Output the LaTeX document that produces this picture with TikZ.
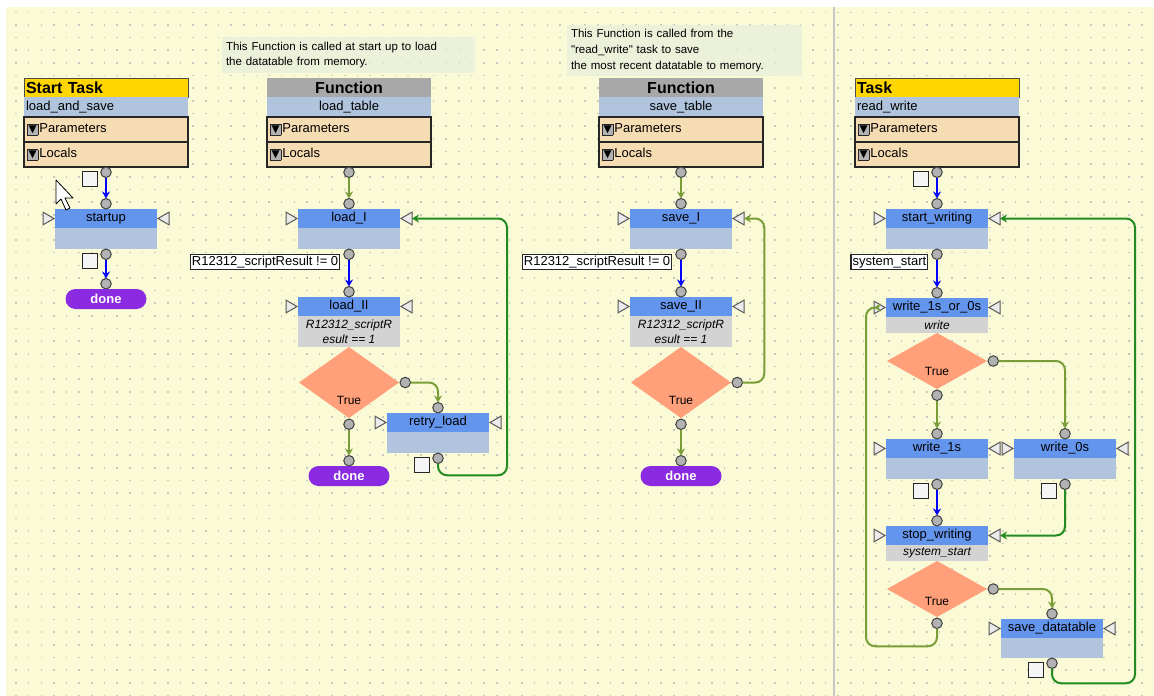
\documentclass[tikz,border=0pt]{standalone}
\usepackage{fontspec}
\setmainfont{Liberation Sans}
\newfontfamily\notefont{Liberation Sans}
\newfontfamily\symfont{DejaVu Sans}
\usetikzlibrary{positioning,shapes.geometric,arrows.meta}

\definecolor{canvas}{RGB}{250,250,214}
\definecolor{griddot}{RGB}{200,200,188}
\definecolor{notebg}{RGB}{232,238,220}
\definecolor{taskgold}{RGB}{255,214,0}
\definecolor{funcgray}{RGB}{168,168,168}
\definecolor{barsteel}{RGB}{176,196,222}
\definecolor{varbeige}{RGB}{246,220,178}
\definecolor{stepblue}{RGB}{100,149,237}
\definecolor{condgray}{RGB}{211,211,211}
\definecolor{decsalmon}{RGB}{255,160,122}
\definecolor{donepurple}{RGB}{138,43,226}
\definecolor{linkblue}{RGB}{0,0,255}
\definecolor{linkolive}{RGB}{122,158,55}
\definecolor{linkgreen}{RGB}{34,139,34}

% drop-down button in front of Parameters / Locals
\newcommand{\dropicon}{{\setlength{\fboxsep}{0.8pt}\setlength{\fboxrule}{0.9pt}\fcolorbox{black!85}{black!30}{\fontsize{10.5}{11}\symfont\char"25BC}}\hspace{1pt}}

\begin{document}
\begin{tikzpicture}[x=1pt,y=-1pt,
    every node/.style={inner sep=0pt,outer sep=0pt},
    txt/.style={font=\fontsize{13}{15}\selectfont},
    griddots/.style={draw=griddot,line width=1.6pt,dash pattern=on 1.6pt off 11.05pt},
    notebox/.style={fill=notebg,fill opacity=0.75,text opacity=1,align=left,inner xsep=4pt,font=\notefont\fontsize{11.5}{15.5}\selectfont},
    taskhdr/.style={fill=taskgold,draw=black!70,text width=160pt,inner xsep=2pt,minimum height=19pt,align=left,font=\fontsize{16}{18}\selectfont\bfseries},
    funchdr/.style={fill=funcgray,minimum width=164pt,minimum height=19pt,font=\fontsize{16}{18}\selectfont\bfseries},
    namebox/.style={fill=barsteel,minimum width=164pt,minimum height=20pt,txt},
    namebox left/.style={namebox,text width=160pt,inner xsep=2pt,align=left},
    varrow/.style={fill=varbeige,draw=black!85,line width=1.3pt,text width=158pt,inner xsep=3pt,minimum height=25pt,align=left,txt},
    stephdr/.style={fill=stepblue,minimum width=102pt,minimum height=19pt,txt},
    stepbody/.style={fill=barsteel,minimum width=102pt,minimum height=21pt},
    condbody/.style={fill=condgray,minimum width=102pt,align=center,font=\fontsize{12}{15}\selectfont\itshape},
    pinR/.style={isosceles triangle,isosceles triangle apex angle=60,minimum height=11pt,fill=black!8,draw=black!65,line width=1pt},
    pinL/.style={pinR,shape border rotate=180},
    portdot/.style={circle,minimum size=10.5pt,fill=black!30,draw=black!75,line width=1pt},
    chk/.style={rectangle,minimum width=15pt,minimum height=15pt,fill=black!4,draw=black!85,line width=1.3pt},
    decision/.style={diamond,fill=decsalmon,minimum width=100pt},
    truetxt/.style={font=\fontsize{12}{14}\selectfont},
    donepill/.style={fill=donepurple,rounded corners=10pt,minimum width=81pt,minimum height=20pt,text=white,font=\fontsize{13}{15}\selectfont\bfseries},
    resultlbl/.style={fill=white,draw=black!85,line width=1.2pt,minimum height=15pt,inner xsep=1.5pt,txt},
    connector/.style={line width=2pt,rounded corners=9pt,-{Stealth[length=7pt,width=8pt]}},
    bluelink/.style={connector,draw=linkblue},
    olivelink/.style={connector,draw=linkolive},
    greenlink/.style={connector,draw=linkgreen}]

  \useasboundingbox (0,0) rectangle (1154,696);

  % Canvas with its dotted grid and the divider
  \fill[white] (0,0) rectangle (1154,696);
  \fill[canvas] (6,7) rectangle (1154,696);
  \foreach \gy in {12.3,24.95,...,696}
    \draw[griddots] (15.2,\gy) -- (1154,\gy);
  \draw[black!22,line width=1.5pt] (834,7) -- (834,696);

  % ---------------- Start Task: load_and_save
  \node[taskhdr] (taskA) at (106,87.5) {Start Task};
  \node[namebox left,below=0pt of taskA] (nameA) {load\_and\_save};
  \node[varrow,below=0pt of nameA] (parA) {\dropicon Parameters};
  \node[varrow,below=0pt of parA] (locA) {\dropicon Locals};
  \node[portdot,below=0pt of locA] (pA0) {};
  \node[chk,left=3pt of pA0,yshift=-7pt] (cA0) {};

  \node[stephdr] (startup) at (106,218.5) {startup};
  \node[stepbody,below=0pt of startup] (startupB) {};
  \node[pinR,left=1pt of startup] (pinAl) {};
  \node[pinL,right=1pt of startup] (pinAr) {};
  \node[portdot,above=0pt of startup] (pA1) {};
  \node[portdot,below=0pt of startupB] (pA2) {};
  \node[chk,left=3pt of pA2,yshift=-7pt] (cA2) {};
  \node[portdot,below=19pt of pA2] (pA3) {};
  \node[donepill,below=0pt of pA3] (doneA) {done};

  \draw[bluelink] (pA0) -- (pA1);
  \draw[bluelink] (pA2) -- (pA3);

  % ---------------- Function: load_table
  \node[notebox,text width=245pt,minimum height=36pt] (noteB) at (348.5,55)
    {This Function is called at start up to load\\the datatable from memory.};
  \node[funchdr] (funcB) at (349,87.5) {Function};
  \node[namebox,below=0pt of funcB] (nameB) {load\_table};
  \node[varrow,below=0pt of nameB] (parB) {\dropicon Parameters};
  \node[varrow,below=0pt of parB] (locB) {\dropicon Locals};
  \node[portdot,below=0pt of locB] (pB0) {};

  \node[stephdr] (loadI) at (349,218.5) {load\_I};
  \node[stepbody,below=0pt of loadI] (loadIB) {};
  \node[pinR,left=1pt of loadI] (pinBl1) {};
  \node[pinL,right=1pt of loadI] (pinBr1) {};
  \node[portdot,above=0pt of loadI] (pB1) {};
  \node[portdot,below=0pt of loadIB] (pB2) {};
  \node[resultlbl,left=4pt of pB2,yshift=-8pt] (resB) {R12312\_scriptResult != 0};

  \node[stephdr] (loadII) at (349,306.5) {load\_II};
  \node[condbody,minimum height=31pt,below=0pt of loadII] (loadIIB) {R12312\_scriptR\\esult == 1};
  \node[pinR,left=1pt of loadII] (pinBl2) {};
  \node[pinL,right=1pt of loadII] (pinBr2) {};
  \node[portdot,above=0pt of loadII] (pB3) {};
  \node[decision,minimum height=71pt,below=0pt of loadIIB] (decB) {};
  \node[truetxt] (trueB) at ([yshift=-18pt]decB.center) {True};
  \node[portdot,right=1pt of decB] (pB4) {};
  \node[portdot,below=1pt of decB] (pB5) {};
  \node[portdot,below=26pt of pB5] (pB6) {};
  \node[donepill,below=0pt of pB6] (doneB) {done};

  \node[stephdr] (retry) at (438,422.5) {retry\_load};
  \node[stepbody,below=0pt of retry] (retryB) {};
  \node[pinR,left=1pt of retry] (pinBl3) {};
  \node[pinL,right=1pt of retry] (pinBr3) {};
  \node[portdot,above=0pt of retry] (pB7) {};
  \node[portdot,below=0pt of retryB] (pB8) {};
  \node[chk,left=3pt of pB8,yshift=-7pt] (cB8) {};

  \draw[olivelink] (pB0) -- (pB1);
  \draw[bluelink] (pB2) -- (pB3);
  \draw[olivelink] (pB4) -| (pB7);
  \draw[olivelink] (pB5) -- (pB6);
  \draw[greenlink] (pB8) |- ++(69,17) |- (pinBr1);

  % ---------------- Function: save_table
  \node[notebox,text width=227pt,minimum height=51pt,font=\notefont\fontsize{11.5}{16}\selectfont] (noteC) at (684.5,50.5)
    {This Function is called from the\\"read\_write" task to save\\the most recent datatable to memory.};
  \node[funchdr] (funcC) at (681,87.5) {Function};
  \node[namebox,below=0pt of funcC] (nameC) {save\_table};
  \node[varrow,below=0pt of nameC] (parC) {\dropicon Parameters};
  \node[varrow,below=0pt of parC] (locC) {\dropicon Locals};
  \node[portdot,below=0pt of locC] (pC0) {};

  \node[stephdr] (saveI) at (681,218.5) {save\_I};
  \node[stepbody,below=0pt of saveI] (saveIB) {};
  \node[pinR,left=1pt of saveI] (pinCl1) {};
  \node[pinL,right=1pt of saveI] (pinCr1) {};
  \node[portdot,above=0pt of saveI] (pC1) {};
  \node[portdot,below=0pt of saveIB] (pC2) {};
  \node[resultlbl,left=4pt of pC2,yshift=-8pt] (resC) {R12312\_scriptResult != 0};

  \node[stephdr] (saveII) at (681,306.5) {save\_II};
  \node[condbody,minimum height=31pt,below=0pt of saveII] (saveIIB) {R12312\_scriptR\\esult == 1};
  \node[pinR,left=1pt of saveII] (pinCl2) {};
  \node[pinL,right=1pt of saveII] (pinCr2) {};
  \node[portdot,above=0pt of saveII] (pC3) {};
  \node[decision,minimum height=71pt,below=0pt of saveIIB] (decC) {};
  \node[truetxt] (trueC) at ([yshift=-18pt]decC.center) {True};
  \node[portdot,right=1pt of decC] (pC4) {};
  \node[portdot,below=1pt of decC] (pC5) {};
  \node[portdot,below=26pt of pC5] (pC6) {};
  \node[donepill,below=0pt of pC6] (doneC) {done};

  \draw[olivelink] (pC0) -- (pC1);
  \draw[bluelink] (pC2) -- (pC3);
  \draw[olivelink] (pC5) -- (pC6);
  \draw[olivelink] (pC4) -- ++(27,0) |- (pinCr1);

  % ---------------- Task: read_write
  \node[taskhdr] (taskD) at (937,87.5) {Task};
  \node[namebox left,below=0pt of taskD] (nameD) {read\_write};
  \node[varrow,below=0pt of nameD] (parD) {\dropicon Parameters};
  \node[varrow,below=0pt of parD] (locD) {\dropicon Locals};
  \node[portdot,below=0pt of locD] (pD0) {};
  \node[chk,left=3pt of pD0,yshift=-7pt] (cD0) {};

  \node[stephdr] (startW) at (937,218.5) {start\_writing};
  \node[stepbody,below=0pt of startW] (startWB) {};
  \node[pinR,left=1pt of startW] (pinDl1) {};
  \node[pinL,right=1pt of startW] (pinDr1) {};
  \node[portdot,above=0pt of startW] (pD1) {};
  \node[portdot,below=0pt of startWB] (pD2) {};
  \node[resultlbl,left=4pt of pD2,yshift=-8pt] (resD) {system\_start};

  \node[stephdr] (wrsel) at (937,307.5) {write\_1s\_or\_0s};
  \node[condbody,minimum height=16pt,below=0pt of wrsel] (wrselB) {write};
  \node[pinR,left=1pt of wrsel] (pinDl2) {};
  \node[pinL,right=1pt of wrsel] (pinDr2) {};
  \node[portdot,above=0pt of wrsel] (pD3) {};
  \node[decision,minimum height=56pt,below=0pt of wrselB] (decD) {};
  \node[truetxt] (trueD) at ([yshift=-10pt]decD.center) {True};
  \node[portdot,right=1pt of decD] (pD4) {};
  \node[portdot,below=1pt of decD] (pD5) {};

  \node[stephdr] (wr1) at (937,448.5) {write\_1s};
  \node[stepbody,below=0pt of wr1] (wr1B) {};
  \node[pinR,left=1pt of wr1] (pinDl3) {};
  \node[pinL,right=1pt of wr1] (pinDr3) {};
  \node[portdot,above=0pt of wr1] (pD6) {};
  \node[portdot,below=0pt of wr1B] (pD7) {};
  \node[chk,left=3pt of pD7,yshift=-7pt] (cD7) {};

  \node[stephdr] (wr0) at (1065,448.5) {write\_0s};
  \node[stepbody,below=0pt of wr0] (wr0B) {};
  \node[pinR,left=1pt of wr0] (pinEl1) {};
  \node[pinL,right=1pt of wr0] (pinEr1) {};
  \node[portdot,above=0pt of wr0] (pE1) {};
  \node[portdot,below=0pt of wr0B] (pE2) {};
  \node[chk,left=3pt of pE2,yshift=-7pt] (cE2) {};

  \node[stephdr] (stopW) at (937,535.5) {stop\_writing};
  \node[condbody,minimum height=16pt,below=0pt of stopW] (stopWB) {system\_start};
  \node[pinR,left=1pt of stopW] (pinDl4) {};
  \node[pinL,right=1pt of stopW] (pinDr4) {};
  \node[portdot,above=0pt of stopW] (pD8) {};
  \node[decision,minimum height=56pt,below=0pt of stopWB] (decE) {};
  \node[truetxt] (trueE) at ([yshift=-12pt]decE.center) {True};
  \node[portdot,right=1pt of decE] (pD9) {};
  \node[portdot,below=1pt of decE] (pD10) {};

  \node[stephdr] (saveDT) at (1052,628.5) {save\_datatable};
  \node[stepbody,minimum height=20pt,below=0pt of saveDT] (saveDTB) {};
  \node[pinR,left=1pt of saveDT] (pinFl1) {};
  \node[pinL,right=1pt of saveDT] (pinFr1) {};
  \node[portdot,above=0pt of saveDT] (pF1) {};
  \node[portdot,below=0pt of saveDTB] (pF2) {};
  \node[chk,left=3pt of pF2,yshift=-7pt] (cF2) {};

  \draw[bluelink] (pD0) -- (pD1);
  \draw[bluelink] (pD2) -- (pD3);
  \draw[olivelink] (pD4) -| (pE1);
  \draw[olivelink] (pD5) -- (pD6);
  \draw[bluelink] (pD7) -- (pD8);
  \draw[greenlink] (pE2) |- (pinDr4);
  \draw[olivelink] (pD9) -| (pF1);
  \draw[olivelink] (pD10) |- ++(-71,23) |- (pinDl2);
  \draw[greenlink] (pF2) |- ++(83,20) |- (pinDr1);

  % mouse pointer left on the canvas
  \draw[fill=white,line width=0.8pt,line join=round] (56,180) -- ++(0,24) -- ++(5,-5) -- ++(5,11)
    -- ++(4,-2) -- ++(-5,-10) -- ++(8,0) -- cycle;
\end{tikzpicture}
\end{document}
